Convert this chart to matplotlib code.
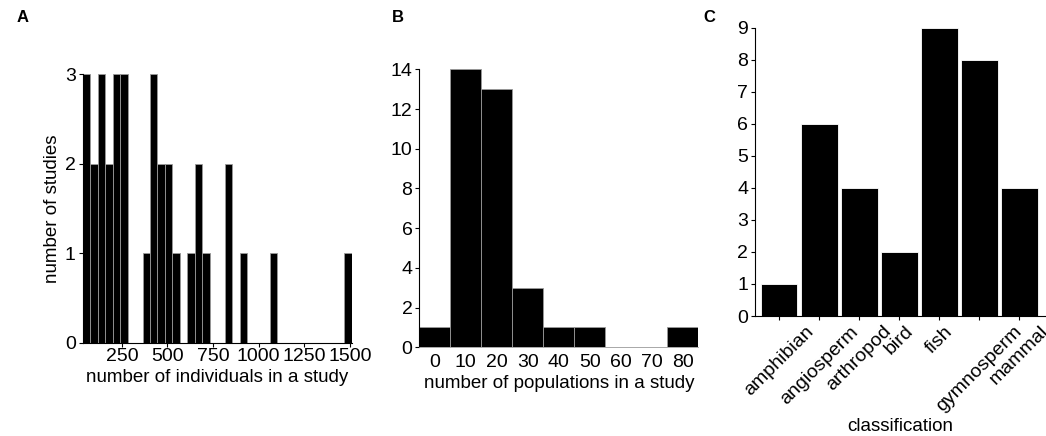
import matplotlib
matplotlib.use("Agg")
import matplotlib.pyplot as plt
import numpy as np

plt.rcParams['font.family'] = ['Liberation Sans', 'DejaVu Sans']

# panel A: histogram of individuals per study (36 bins)
ind_start = 35
ind_width = 41
ind_counts = [3, 2, 3, 2, 3, 3, 0, 0, 1, 3, 2, 2, 1, 0, 1, 2, 1, 0,
              0, 2, 0, 1, 0, 0, 0, 1, 0, 0, 0, 0, 0, 0, 0, 0, 0, 1]
ind_ticks = [250, 500, 750, 1000, 1250, 1500]

# panel B: histogram of populations per study
pop_centers = [0, 10, 20, 30, 40, 50, 60, 70, 80]
pop_counts = [1, 14, 13, 3, 1, 1, 0, 0, 1]

# panel C: studies per classification
classes = ['amphibian', 'angiosperm', 'arthropod', 'bird', 'fish',
           'gymnosperm', 'mammal']
class_counts = [1, 6, 4, 2, 9, 8, 4]

fs_tick = 14
fs_lab = 13.5
edge = '#9a9a9a'

fig = plt.figure(figsize=(10.46, 4.36), dpi=100)

# --- A
axA = fig.add_axes([0.0791, 0.214, 0.2572, 0.616])
lefts = ind_start + ind_width * np.arange(len(ind_counts))
axA.bar(lefts, ind_counts, width=ind_width, align='edge', color='black',
        edgecolor=edge, linewidth=0.6)
axA.set_xlim(ind_start, ind_start + ind_width * len(ind_counts))
axA.set_ylim(0, 3)
axA.set_xticks(ind_ticks)
axA.set_yticks([0, 1, 2, 3])
axA.set_xlabel('number of individuals in a study', fontsize=fs_lab, labelpad=3)
axA.set_ylabel('number of studies', fontsize=fs_lab, labelpad=3)

# --- B
axB = fig.add_axes([0.4009, 0.2034, 0.2667, 0.6376])
axB.bar(pop_centers, pop_counts, width=10, color='black',
        edgecolor=edge, linewidth=0.6)
axB.set_xlim(-5, 85)
axB.set_ylim(0, 14)
axB.set_xticks(pop_centers)
axB.set_yticks(range(0, 15, 2))
axB.set_xlabel('number of populations in a study', fontsize=fs_lab, labelpad=3)
axB.spines['bottom'].set_color(edge)
axB.spines['bottom'].set_linewidth(0.6)

# --- C
axC = fig.add_axes([0.7218, 0.2752, 0.2772, 0.6612])
xc = np.arange(len(classes))
axC.bar(xc, class_counts, width=0.92, color='black',
        edgecolor='white', linewidth=0.6)
axC.set_xlim(-0.6, 6.64)
axC.set_ylim(0, 9)
axC.set_yticks(range(0, 10))
axC.set_xticks(xc)
axC.set_xticklabels(classes, rotation=45, ha='center', va='top')
axC.set_xlabel('classification', fontsize=fs_lab, labelpad=2)

for ax in (axA, axB, axC):
    ax.spines['top'].set_visible(False)
    ax.spines['right'].set_visible(False)
    ax.tick_params(labelsize=fs_tick, length=3, width=0.8, pad=2)
axB.tick_params(axis='x', length=0, pad=5)
axA.tick_params(axis='x', pad=1)

fig.text(0.016, 0.96, 'A', fontsize=12, fontweight='bold', va='center')
fig.text(0.375, 0.96, 'B', fontsize=12, fontweight='bold', va='center')
fig.text(0.672, 0.96, 'C', fontsize=12, fontweight='bold', va='center')

fig.savefig('out.png', dpi=100)
